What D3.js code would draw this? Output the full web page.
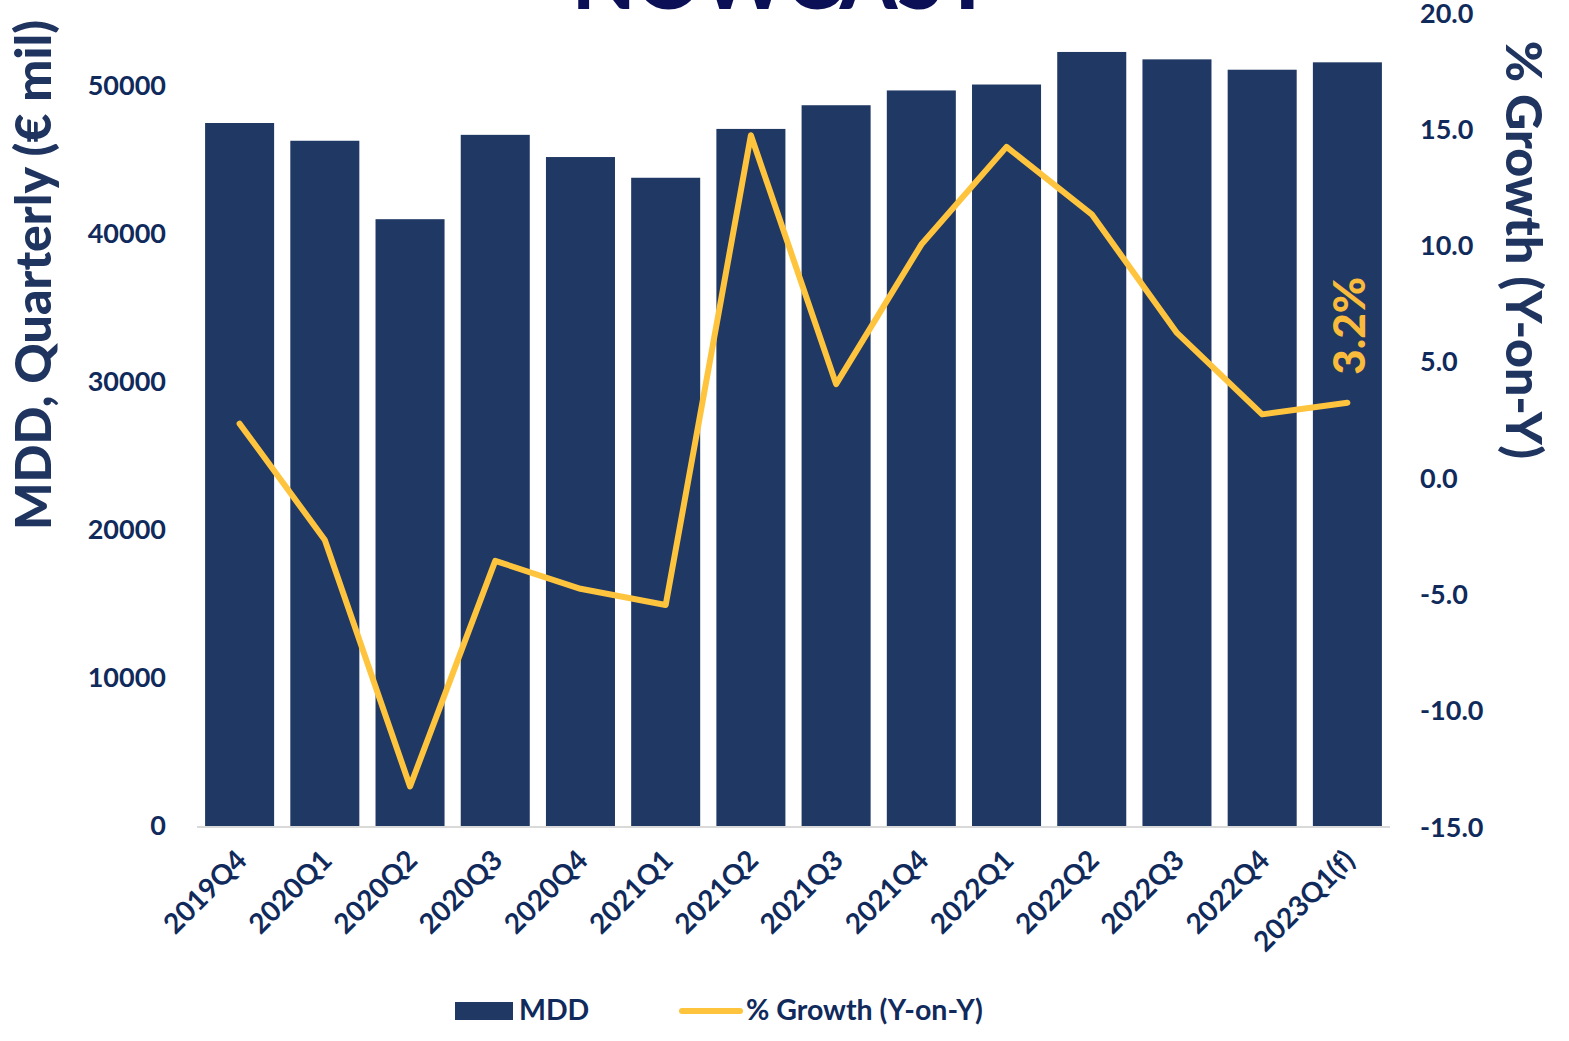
<!DOCTYPE html>
<html>
<head>
<meta charset="utf-8">
<script src="https://cdn.jsdelivr.net/npm/d3@7"></script>
<style>
  html, body { margin: 0; padding: 0; background: #fff; }
  svg { display: block; }
  text { font-family: Lato, "Open Sans", sans-serif; font-weight: 700; }
</style>
</head>
<body>
<svg id="chart" width="1569" height="1041"></svg>
<script>
const categories = ["2019Q4","2020Q1","2020Q2","2020Q3","2020Q4","2021Q1","2021Q2","2021Q3","2021Q4","2022Q1","2022Q2","2022Q3","2022Q4","2023Q1(f)"];
const mdd = [47500, 46300, 41000, 46700, 45200, 43800, 47100, 48700, 49700, 50100, 52300, 51800, 51100, 51600];
const growth = [2.3, -2.7, -13.3, -3.6, -4.8, -5.5, 14.7, 4.0, 10.0, 14.2, 11.3, 6.2, 2.7, 3.2];
const leftTicks = [0, 10000, 20000, 30000, 40000, 50000];
const rightTicks = [-15, -10, -5, 0, 5, 10, 15, 20];

const barColor = "#203864";
const lineColor = "#FFC43D";
const labelColor = "#F8BB3B";
const tickColor = "#102a5c";
const titleColor = "#1f3560";

const svg = d3.select("#chart");
const m = { left: 197, right: 1390, top: 12, bottom: 826 };

const x = d3.scaleBand().domain(categories).range([m.left, m.right]).paddingInner(0.19).paddingOuter(0.095);
const yL = d3.scaleLinear().domain([0, 55000]).range([m.bottom, m.top]);
const yR = d3.scaleLinear().domain([-15, 20]).range([m.bottom, m.top]);

// Title (cut off at top, as in the original image)
svg.append("text").attr("x", 782).attr("y", 9).attr("text-anchor", "middle")
  .style("font-size", "82px").style("font-weight", 900).attr("fill", "#0b0f56")
  .text("NOWCAST");

// Bars
svg.append("g").selectAll("rect").data(categories).join("rect")
  .attr("x", d => x(d)).attr("width", x.bandwidth())
  .attr("y", (d, i) => yL(mdd[i])).attr("height", (d, i) => yL(0) - yL(mdd[i]))
  .attr("fill", barColor);

// Baseline
svg.append("line").attr("x1", m.left).attr("x2", m.right)
  .attr("y1", yL(0) + 1).attr("y2", yL(0) + 1)
  .attr("stroke", "#d9d9d9").attr("stroke-width", 2);

// Left axis
const gL = svg.append("g").attr("transform", `translate(${166},0)`)
  .call(d3.axisLeft(yL).tickValues(leftTicks).tickSize(0).tickPadding(0).tickFormat(d3.format("d")));
gL.select(".domain").remove();
gL.selectAll("text").attr("fill", tickColor).style("font-size", "27px").style("font-family", "Lato, sans-serif").style("font-weight", 700);

// Right axis
const gR = svg.append("g").attr("transform", `translate(${1420},1.5)`)
  .call(d3.axisRight(yR).tickValues(rightTicks).tickSize(0).tickPadding(0).tickFormat(d3.format(".1f")));
gR.select(".domain").remove();
gR.selectAll("text").attr("fill", tickColor).style("font-size", "27px").style("font-family", "Lato, sans-serif").style("font-weight", 700)
  .text(d => d3.format(".1f")(d).replace("−", "-"));

// X labels
svg.append("g").selectAll("text").data(categories).join("text")
  .attr("transform", d => `translate(${x(d) + x.bandwidth() / 2 + 9},${862}) rotate(-45)`)
  .attr("text-anchor", "end").attr("fill", tickColor).style("font-size", "28px")
  .text(d => d);

// Line
const line = d3.line().x((d, i) => x(categories[i]) + x.bandwidth() / 2).y(d => yR(d));
svg.append("path").datum(growth).attr("d", line)
  .attr("fill", "none").attr("stroke", lineColor).attr("stroke-width", 6)
  .attr("stroke-linejoin", "round").attr("stroke-linecap", "round");

// Last value label
const lastI = growth.length - 1;
svg.append("text")
  .attr("transform", `translate(${x(categories[lastI]) + x.bandwidth() / 2 + 18},${yR(growth[lastI]) - 28}) rotate(-90)`)
  .attr("text-anchor", "start").attr("fill", labelColor).style("font-size", "44px").style("font-weight", 900)
  .text(growth[lastI].toFixed(1) + "%");

// Axis titles
svg.append("text").attr("transform", `translate(51,275) rotate(-90)`)
  .attr("text-anchor", "middle").attr("fill", titleColor).style("font-size", "50px").style("font-weight", 900)
  .text("MDD, Quarterly (€ mil)");
svg.append("text").attr("transform", `translate(1506,250) rotate(90)`)
  .attr("text-anchor", "middle").attr("fill", titleColor).style("font-size", "50px").style("font-weight", 900)
  .text("% Growth (Y-on-Y)");

// Legend
const lg = svg.append("g");
lg.append("rect").attr("x", 455).attr("y", 1002).attr("width", 58).attr("height", 18).attr("fill", barColor);
lg.append("text").attr("x", 519).attr("y", 1020).attr("fill", tickColor).style("font-size", "28.5px").text("MDD");
lg.append("line").attr("x1", 682).attr("x2", 740).attr("y1", 1011).attr("y2", 1011)
  .attr("stroke", lineColor).attr("stroke-width", 6).attr("stroke-linecap", "round");
lg.append("text").attr("x", 746).attr("y", 1020).attr("fill", tickColor).style("font-size", "28.5px").text("% Growth (Y-on-Y)");
</script>
</body>
</html>
